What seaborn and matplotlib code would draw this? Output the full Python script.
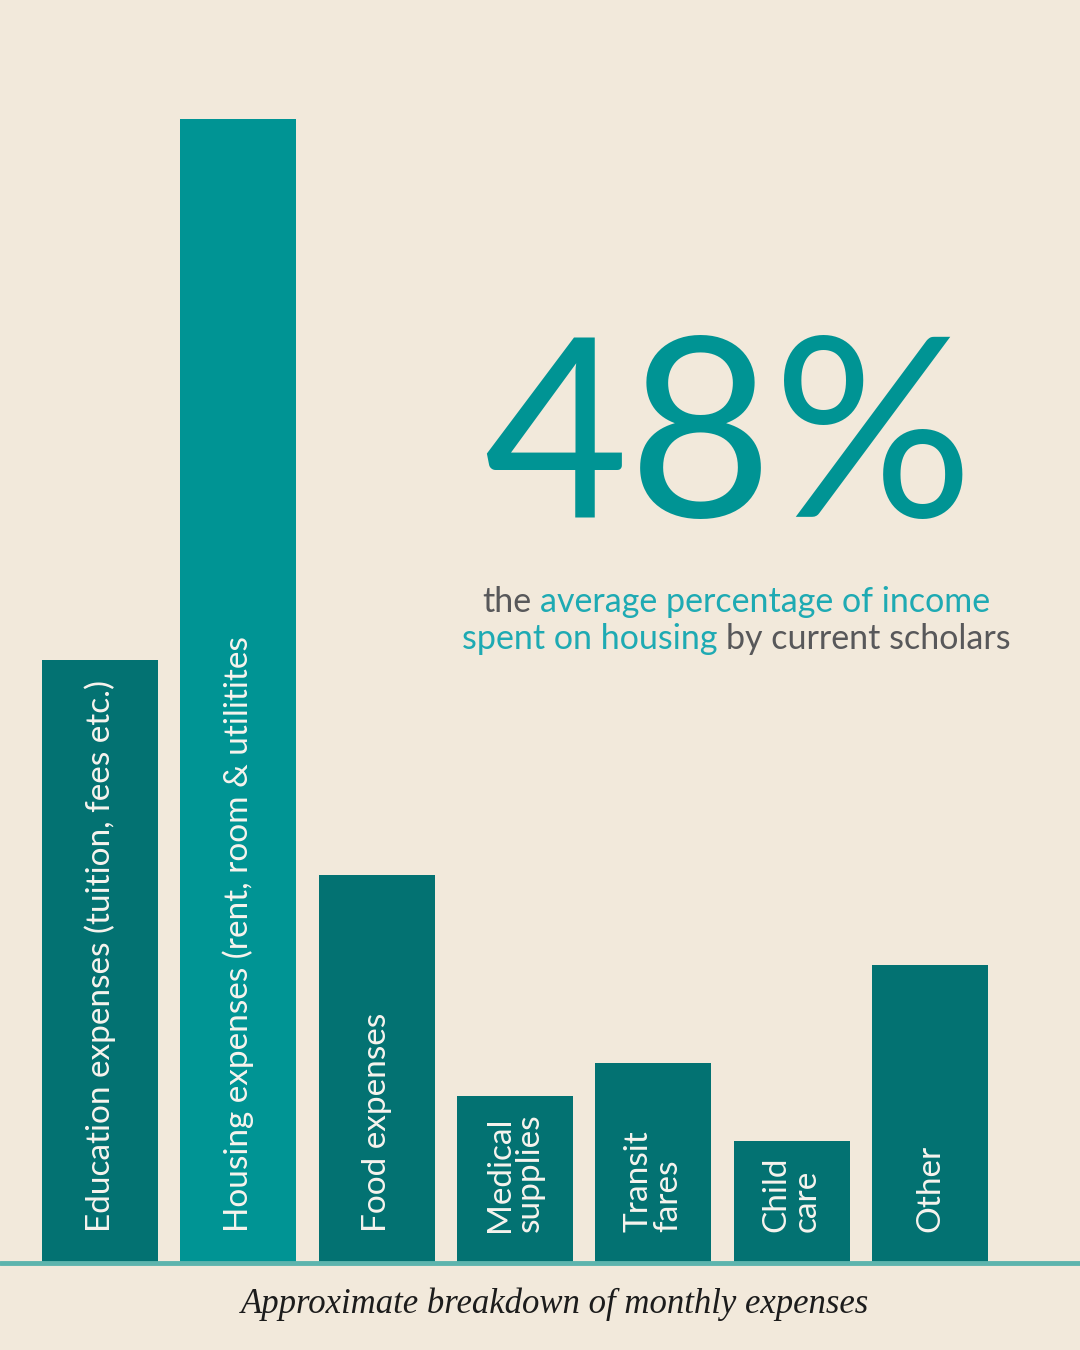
import matplotlib
matplotlib.use("Agg")
import matplotlib.pyplot as plt
import seaborn as sns
import pandas as pd

# bar data (relative share of monthly expenses)
categories = [
    "Education expenses (tuition, fees etc.)",
    "Housing expenses (rent, room & utilitites",
    "Food expenses",
    "Medical\nsupplies",
    "Transit\nfares",
    "Child\ncare",
    "Other",
]
values = [25.3, 48.0, 16.3, 7.0, 8.4, 5.1, 12.5]
bar_colors = ["#037272", "#009494", "#037272", "#037272", "#037272", "#037272", "#037272"]

headline = "48%"
line1 = [("the", "#58585a"), ("average percentage of income", "#1eaab3")]
line2 = [("spent on housing", "#1eaab3"), ("by current scholars", "#58585a")]
caption = "Approximate breakdown of monthly expenses"

BG = "#f2e9db"

sns.set_theme(style="white")
plt.rcParams["font.family"] = ["Lato", "DejaVu Sans"]

df = pd.DataFrame({"category": categories, "value": values})

fig = plt.figure(figsize=(10.8, 13.5), dpi=100)
fig.patch.set_facecolor(BG)
ax = fig.add_axes([0, 87 / 1350, 1, 1144 / 1350])
ax.set_facecolor(BG)

sns.barplot(data=df, x="category", y="value", hue="category",
            palette=bar_colors, legend=False, width=0.84, saturation=1,
            linewidth=0, ax=ax)
ax.set_xlim(-0.723, 7.085)
ax.set_ylim(0, 48)
ax.axis("off")

# baseline
ax.axhline(0, color="#5db4ad", lw=3.5, clip_on=False, zorder=5)

# labels inside bars
for i, lab in enumerate(categories):
    ax.annotate(lab, xy=(i, 0), xytext=(0, 22), textcoords="offset points",
                rotation=90, rotation_mode="anchor", ha="left", va="center",
                multialignment="left", linespacing=1.0,
                color="#f7f4ee", fontsize=24)

# big headline
fig.text(0.674, 1 - 517 / 1350, headline, ha="center", va="baseline",
         color="#009494", fontsize=180)

# two-colour subtitle lines
renderer = fig.canvas.get_renderer()


def text_width(s, size):
    t = fig.text(0, 0, s, fontsize=size)
    w = t.get_window_extent(renderer).width
    t.remove()
    return w


def coloured_line(parts, cx, y, size):
    gap = text_width("a a", size) - text_width("aa", size)
    widths = [text_width(s, size) for s, _ in parts]
    total = sum(widths) + gap * (len(parts) - 1)
    x = cx - total / 2
    for (s, c), w in zip(parts, widths):
        fig.text(x / 1080, y, s, color=c, fontsize=size,
                 ha="left", va="baseline")
        x += w + gap


coloured_line(line1, 736, 1 - 612 / 1350, 24.5)
coloured_line(line2, 736, 1 - 649 / 1350, 24.5)

fig.text(555 / 1080, 1 - 1313 / 1350, caption, ha="center", va="baseline",
         family=["Liberation Serif"], style="italic", color="#1c1c1c", fontsize=25)

fig.savefig("out.png", dpi=100, facecolor=BG)
